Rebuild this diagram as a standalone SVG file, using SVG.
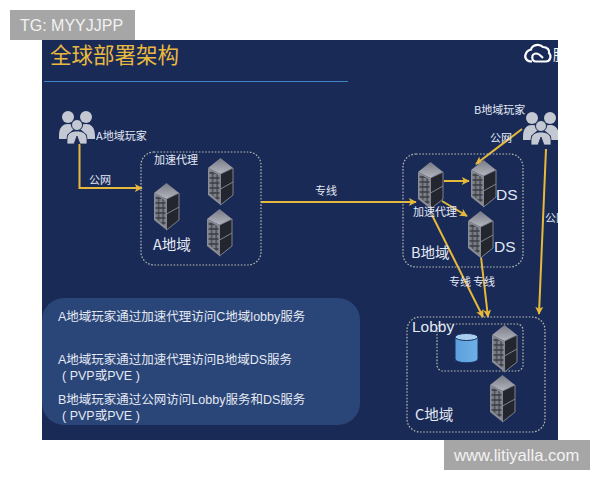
<svg xmlns="http://www.w3.org/2000/svg" width="600" height="480" viewBox="0 0 600 480">
<style>
text{font-family:"Liberation Sans","Noto Sans CJK SC",sans-serif;fill:#e4e9f4}
.cjk{font-family:"Noto Sans CJK SC","Liberation Sans",sans-serif}
.s11{font-size:11px}.s125{font-size:12.500px}.s14{font-size:14.500px}.s15{font-size:15.500px}
.zone{fill:none;stroke:#b9bcae;stroke-width:1.200;stroke-dasharray:1.600 1.600}
.link{fill:none;stroke:#e6b93c;stroke-width:2}
.wm{fill:#a6a6a6}.wmt{fill:#f2f2f2;font-size:16px}
</style>
<defs>
<marker id="ah" viewBox="0 0 10 10" refX="9" refY="5" markerWidth="9" markerHeight="8" markerUnits="userSpaceOnUse" orient="auto"><path d="M0 0L10 5L0 10L2.500 5Z" fill="#e6b93c"/></marker>
<clipPath id="page"><rect x="42" y="40" width="516" height="400"/></clipPath>
<linearGradient id="top" x1="0" y1="0" x2="0" y2="1"><stop offset="0" stop-color="#777a85"/><stop offset="1" stop-color="#b4b6be"/></linearGradient>
<linearGradient id="db" x1="0" y1="0" x2="1" y2="0"><stop offset="0" stop-color="#5b9fdc"/><stop offset="1" stop-color="#6fb0e6"/></linearGradient>
<pattern id="grid" width="4.600" height="5" patternUnits="userSpaceOnUse"><rect width="4.600" height="5" fill="#3c3e48"/><rect x=".6" y=".8" width="3.400" height="3.400" fill="#7c7e86"/></pattern>
<g id="srv">
<path d="M12.500 0L25 10L12.500 16L0 10Z" fill="url(#top)"/>
<path d="M0 10L12.500 16V47L0 37Z" fill="#8b8d96"/>
<path d="M1.500 12L11.500 17.500V43.500L1.500 35.500Z" fill="url(#grid)"/>
<path d="M12.500 16L25 10V37L12.500 47Z" fill="#23252f" stroke="#8b8d96" stroke-width=".9"/>
<path d="M12.500 31L25 24" stroke="#8b8d96" stroke-width=".9"/>
</g>
<g id="usr" fill="#c3c8d2">
<circle cx="9" cy="8" r="6"/><circle cx="27" cy="8" r="6"/>
<path d="M0 27C0 18 4 15 9 15C13 15 15 17 16 19L8 26V30H0Z"/>
<path d="M36 27C36 18 32 15 27 15C23 15 21 17 20 19L28 26V30H36Z"/>
<circle cx="18" cy="16" r="5.500" stroke="#1a2a57" stroke-width="1"/>
<path d="M8 35V30C8 24 13 22 18 22C23 22 28 24 28 30V35H21L18 27L15 35Z" stroke="#1a2a57" stroke-width=".8"/>
</g>
</defs>
<rect width="600" height="480" fill="#fff"/>
<rect x="42" y="40" width="516" height="400" fill="#1a2a57"/>
<g id="title">
<text class="cjk" x="50" y="63" style="font-size:21.500px;fill:#e9b93f">全球部署架构</text>
<line x1="44" y1="81.500" x2="348" y2="81.500" stroke="#3f82c8" stroke-width="1.200"/>
</g>
<g id="logo" clip-path="url(#page)">
<path d="M532 61.500C526 61.500 524 57 526 53.500C527 50 530 50 531 49.500C532 45 539 43 543 47C547 47 550 50 549 53C552 56 550 61.500 546 61.500H536C531 61.500 531 53.500 536 53.500C539 53.500 541 56 543 58" fill="none" stroke="#fff" stroke-width="2.200"/>
<text class="cjk" x="553" y="60" style="font-size:15px;fill:#fff">腾</text>
</g>
<g id="connectors">
<path class="link" d="M79.500 144V188H142" marker-end="url(#ah)"/>
<path class="link" d="M261 202H416" marker-end="url(#ah)"/>
<path class="link" d="M522 129L476 164" marker-end="url(#ah)"/>
<path class="link" d="M444 181H469" marker-end="url(#ah)"/>
<path class="link" d="M442 201L467 216" marker-end="url(#ah)"/>
<path class="link" d="M432 215L483 317" marker-end="url(#ah)"/>
<path class="link" d="M481 257L488 317" marker-end="url(#ah)"/>
<path class="link" d="M546 149L539 314" marker-end="url(#ah)"/>
</g>
<g id="user-a"><use href="#usr" x="59" y="109"/><text class="cjk s11" x="96" y="140">A地域玩家</text></g>
<g id="user-b" clip-path="url(#page)"><use href="#usr" x="523" y="110"/><text class="cjk s11" x="474" y="114">B地域玩家</text></g>
<g id="region-a">
<rect class="zone" x="141" y="152" width="120" height="113" rx="13"/>
<text class="cjk s11" x="154" y="164">加速代理</text>
<use href="#srv" x="154" y="183"/><use href="#srv" x="208" y="158"/><use href="#srv" x="207" y="209"/>
<text class="cjk s14" x="153" y="250">A地域</text>
</g>
<g id="region-b">
<rect class="zone" x="403" y="154" width="120" height="113" rx="13"/>
<use href="#srv" x="418" y="162"/><use href="#srv" x="471" y="160"/><use href="#srv" x="468" y="211"/>
<text class="cjk s11" x="413" y="216">加速代理</text>
<text class="s15" x="496" y="200">DS</text>
<text class="s15" x="494" y="252">DS</text>
<text class="cjk s14" x="411" y="258">B地域</text>
</g>
<g id="region-c">
<rect class="zone" x="407" y="317" width="138" height="115" rx="13"/>
<rect class="zone" x="437" y="324" width="86" height="47" rx="6"/>
<text class="s15" x="412" y="332">Lobby</text>
<g id="database"><path d="M455 337V359C455 364 478 364 478 359V337Z" fill="url(#db)" stroke="#17305f"/><ellipse cx="466.500" cy="337" rx="11.500" ry="3.500" fill="#a9cff0" stroke="#17305f"/></g>
<use href="#srv" x="492" y="325"/><use href="#srv" x="490" y="375"/>
<text class="cjk s14" x="415" y="420">C地域</text>
</g>
<g id="labels">
<text class="cjk s11" x="89" y="184">公网</text>
<text class="cjk s11" x="315" y="195">专线</text>
<text class="cjk s11" x="490" y="142">公网</text>
<text class="cjk s11" x="449" y="286">专线</text>
<text class="cjk s11" x="473" y="286">专线</text>
<g clip-path="url(#page)"><text class="cjk s11" x="545" y="222">公网</text></g>
</g>
<g id="notes">
<rect x="42" y="298" width="318" height="127" rx="22" fill="#2a4577"/>
<text class="s125" x="58" y="321">A地域玩家通过加速代理访问C地域lobby服务</text>
<text class="s125" x="58" y="364">A地域玩家通过加速代理访问B地域DS服务</text>
<text class="s125" x="62" y="380">( PVP或PVE )</text>
<text class="s125" x="58" y="404">B地域玩家通过公网访问Lobby服务和DS服务</text>
<text class="s125" x="62" y="420">( PVP或PVE )</text>
</g>
<g id="watermarks">
<rect class="wm" x="10" y="10" width="125" height="30"/>
<text class="wmt" x="20" y="31">TG: MYYJJPP</text>
<rect class="wm" x="444" y="440" width="146" height="30"/>
<text class="wmt" x="454" y="461" style="font-size:16.600px">www.litiyalla.com</text>
</g>
</svg>
